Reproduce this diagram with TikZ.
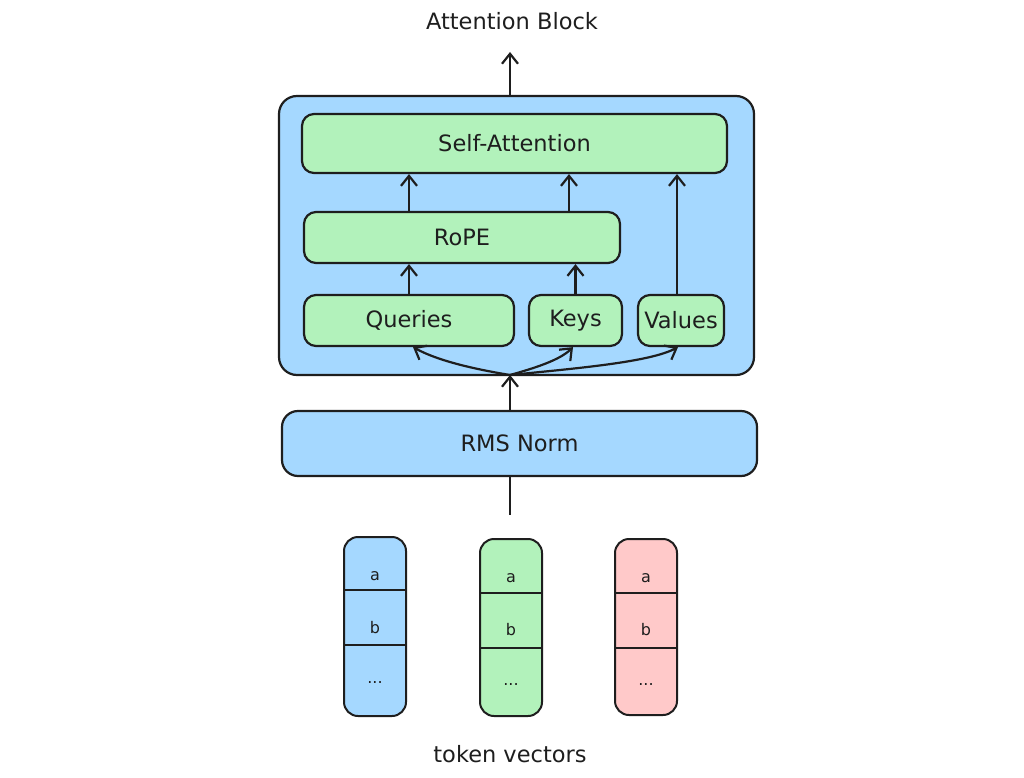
\documentclass[tikz,border=0pt]{standalone}
\usepackage{fontspec}
\setmainfont{DejaVu Sans}
\usetikzlibrary{arrows.meta}
\definecolor{ink}{HTML}{1E1E1E}
\definecolor{bblue}{HTML}{A5D8FF}
\definecolor{bgreen}{HTML}{B2F2BB}
\definecolor{bred}{HTML}{FFC9C9}
\begin{document}
\begin{tikzpicture}[x=1pt,y=-1pt,
  box/.style={draw=ink, line width=2.2pt, rounded corners=12pt, inner sep=0pt, text=ink,
              font=\fontsize{22.5}{26}\selectfont},
  gbox/.style={box, fill=bgreen},
  tok/.style={draw=ink, line width=2pt, rounded corners=14pt, inner sep=0pt, minimum width=62pt},
  div/.style={draw=ink, line width=1.6pt},
  lab/.style={text=ink, font=\fontsize{22.5}{26}\selectfont, inner sep=0pt},
  small/.style={text=ink, font=\fontsize{16}{18}\selectfont, inner sep=0pt},
  arr/.style={draw=ink, line width=2.2pt, line cap=round, -{Straight Barb[length=10pt,width=16pt]}},
  ln/.style={draw=ink, line width=2.2pt}]
\useasboundingbox (0,0) rectangle (1024,778);

% outer attention block
\node[box, fill=bblue, rounded corners=18pt, minimum width=475pt, minimum height=279pt] (outer) at (516.5,235.5) {};
\node[gbox, minimum width=425pt, minimum height=59pt] (sa) at (514.5,143.5) {Self-Attention};
\node[gbox, minimum width=316pt, minimum height=51pt] (rope) at (462,237.5) {RoPE};
\node[gbox, minimum width=210pt, minimum height=51pt] (q) at (409,320.5) {Queries};
\node[gbox, minimum width=93pt, minimum height=51pt] (k) at (575.5,320.5) {Keys};
\node[gbox, minimum width=86pt, minimum height=51pt] (v) at (681,320.5) {Values};

% RMS Norm
\node[box, fill=bblue, rounded corners=16pt, minimum width=475pt, minimum height=65pt] (rms) at (519.5,443.5) {RMS Norm};

% labels
\node[lab] (title) at (512,21) {Attention Block};
\node[lab] (tvlab) at (510,754) {token vectors};

% coordinates
\coordinate (fan) at (510,375);
\coordinate (topend) at (510,52);
\coordinate (botend) at (510,515);

% arrows
\draw[arr] (outer.north -| fan) -- (topend);
\draw[arr] (fan |- rms.north) -- (fan);
\draw[ln] (fan |- rms.south) -- (botend);

\draw[arr] (q.north) -- (q.north |- rope.south);
\draw[arr] (k.north) -- (k.north |- rope.south);
\draw[arr] (q.north |- rope.north) -- (q.north |- sa.south);
\draw[arr] ([xshift=-6.5pt]k.north |- rope.north) -- ([xshift=-6.5pt]k.north |- sa.south);
\draw[arr] ([xshift=-4pt]v.north) -- ([xshift=-4pt]v.north |- sa.south);

\draw[arr] (fan) .. controls (480,370) and (440,362) .. ([xshift=4pt]q.south);
\draw[arr] (fan) .. controls (535,368) and (560,360) .. ([xshift=-2.5pt]k.south);
\draw[arr] (fan) .. controls (580,368) and (650,362) .. ([xshift=-3pt]v.south);

% token vectors
\node[tok, fill=bblue, minimum height=179pt] (t1) at (375,626.5) {};
\draw[div] (t1.west |- 0,590) -- (t1.east |- 0,590);
\draw[div] (t1.west |- 0,645) -- (t1.east |- 0,645);
\node[small] (t1a) at (375,576) {a};
\node[small] (t1b) at (375,628) {b};
\node[small] (t1c) at (375,682) {...};

\node[tok, fill=bgreen, minimum height=177pt] (t2) at (511,627.5) {};
\draw[div] (t2.west |- 0,593) -- (t2.east |- 0,593);
\draw[div] (t2.west |- 0,648) -- (t2.east |- 0,648);
\node[small] (t2a) at (511,578) {a};
\node[small] (t2b) at (511,630) {b};
\node[small] (t2c) at (511,684) {...};

\node[tok, fill=bred, minimum height=176pt] (t3) at (646,627) {};
\draw[div] (t3.west |- 0,593) -- (t3.east |- 0,593);
\draw[div] (t3.west |- 0,648) -- (t3.east |- 0,648);
\node[small] (t3a) at (646,578) {a};
\node[small] (t3b) at (646,630) {b};
\node[small] (t3c) at (646,684) {...};
\end{tikzpicture}
\end{document}
